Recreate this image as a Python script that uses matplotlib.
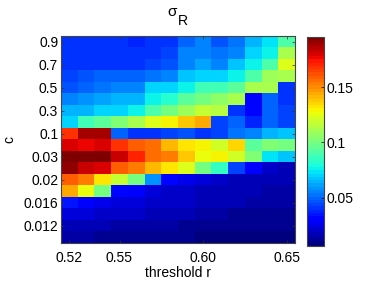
import numpy as np
import matplotlib
matplotlib.use("Agg")
import matplotlib.pyplot as plt

plt.rcParams.update({
    "font.family": "Liberation Sans",
    "font.size": 10,
})

# threshold r (columns) and c (rows, top to bottom)
thresholds = [0.52, 0.53, 0.54, 0.55, 0.56, 0.57, 0.58, 0.59, 0.60, 0.61, 0.62, 0.63, 0.64, 0.65]
c_values = [0.9, 0.8, 0.7, 0.6, 0.5, 0.4, 0.3, 0.2, 0.1, 0.05, 0.03, 0.025, 0.02, 0.018,
            0.016, 0.014, 0.012, 0.01]
xtick_labels = ["0.52", "0.55", "0.60", "0.65"]
ytick_labels = ["0.9", "0.7", "0.5", "0.3", "0.1", "0.03", "0.02", "0.016", "0.012"]
cbar_ticks = [0.05, 0.1, 0.15]

# sigma_R, one row per c value
row_09 = [0.040, 0.040, 0.042, 0.042, 0.038, 0.040, 0.040, 0.049, 0.056, 0.047, 0.051, 0.063, 0.072, 0.092]
row_08 = [0.040, 0.040, 0.040, 0.042, 0.042, 0.042, 0.045, 0.054, 0.054, 0.051, 0.054, 0.069, 0.077, 0.113]
row_07 = [0.040, 0.042, 0.040, 0.042, 0.042, 0.045, 0.047, 0.054, 0.061, 0.056, 0.066, 0.077, 0.092, 0.123]
row_06 = [0.045, 0.047, 0.049, 0.049, 0.049, 0.051, 0.054, 0.066, 0.071, 0.071, 0.075, 0.092, 0.109, 0.111]
row_05 = [0.047, 0.049, 0.051, 0.056, 0.054, 0.069, 0.069, 0.077, 0.087, 0.087, 0.094, 0.111, 0.111, 0.040]
row_04 = [0.054, 0.058, 0.061, 0.063, 0.063, 0.077, 0.082, 0.094, 0.099, 0.106, 0.111, 0.033, 0.049, 0.040]
row_03 = [0.063, 0.064, 0.071, 0.071, 0.077, 0.092, 0.101, 0.108, 0.118, 0.116, 0.040, 0.033, 0.049, 0.045]
row_02 = [0.071, 0.087, 0.094, 0.104, 0.113, 0.123, 0.129, 0.137, 0.144, 0.045, 0.049, 0.038, 0.049, 0.045]
row_01 = [0.167, 0.188, 0.190, 0.049, 0.042, 0.040, 0.045, 0.047, 0.042, 0.045, 0.051, 0.056, 0.063, 0.066]
row_005 = [0.181, 0.177, 0.179, 0.167, 0.158, 0.155, 0.142, 0.131, 0.129, 0.121, 0.135, 0.094, 0.104, 0.101]
row_003 = [0.1957, 0.196, 0.194, 0.184, 0.172, 0.155, 0.153, 0.139, 0.127, 0.128, 0.120, 0.104, 0.073, 0.066]
row_0025 = [0.192, 0.184, 0.179, 0.158, 0.153, 0.142, 0.133, 0.124, 0.101, 0.085, 0.045, 0.028, 0.021, 0.018]
row_002 = [0.158, 0.153, 0.133, 0.118, 0.101, 0.059, 0.032, 0.026, 0.024, 0.021, 0.018, 0.017, 0.016, 0.016]
row_0018 = [0.144, 0.125, 0.099, 0.032, 0.030, 0.024, 0.021, 0.020, 0.018, 0.018, 0.016, 0.016, 0.014, 0.014]
row_0016 = [0.034, 0.030, 0.026, 0.024, 0.023, 0.021, 0.020, 0.019, 0.017, 0.017, 0.016, 0.014, 0.014, 0.014]
row_0014 = [0.024, 0.022, 0.021, 0.020, 0.019, 0.018, 0.017, 0.016, 0.015, 0.015, 0.012, 0.012, 0.012, 0.012]
row_0012 = [0.018, 0.017, 0.016, 0.015, 0.014, 0.014, 0.013, 0.012, 0.011, 0.011, 0.010, 0.010, 0.010, 0.010]
row_001 = [0.014, 0.013, 0.012, 0.012, 0.011, 0.011, 0.010, 0.010, 0.009, 0.009, 0.008, 0.008, 0.007, 0.0066]

sigma_r = np.array([row_09, row_08, row_07, row_06, row_05, row_04, row_03, row_02, row_01,
                    row_005, row_003, row_0025, row_002, row_0018, row_0016, row_0014,
                    row_0012, row_001])

W, H = 374, 281
fig = plt.figure(figsize=(W / 100, H / 100), dpi=100)
ax = fig.add_axes([61 / W, 38 / H, 234 / W, 207 / H])
cax = fig.add_axes([307 / W, 35.5 / H, 17 / W, 209 / H])

# MATLAB-style jet with 64 levels
im = ax.imshow(sigma_r, cmap=plt.get_cmap("jet", 64), aspect="auto", interpolation="nearest")

ax.set_xticks([thresholds.index(float(s)) for s in xtick_labels])
ax.set_xticklabels(xtick_labels)
ax.set_yticks([c_values.index(float(s)) for s in ytick_labels])
ax.set_yticklabels(ytick_labels)
ax.tick_params(direction="in", length=2.5, width=0.5, top=True, right=True,
               labelsize=10, color="#333333")
ax.tick_params(axis="y", pad=2)
ax.tick_params(axis="x", pad=5.5)
for s in ax.spines.values():
    s.set_linewidth(0.8)
    s.set_color("#444444")

ax.set_xlabel("threshold r", fontsize=10, labelpad=1)
ax.set_ylabel("c", fontsize=10, labelpad=5)

# title: sigma with a large subscript R, as MATLAB draws it
fig.text(167 / W, 1 - 15.5 / H, "\u03c3", fontsize=11, ha="left", va="baseline")
fig.text(177.5 / W, 1 - 25 / H, "R", fontsize=10, ha="left", va="baseline")

cb = fig.colorbar(im, cax=cax, ticks=cbar_ticks)
cb.ax.set_yticklabels([f"{t:g}" for t in cbar_ticks])
cb.ax.tick_params(direction="in", length=2.5, width=0.5, labelsize=10, pad=2)
cb.outline.set_linewidth(0.8)
cb.outline.set_edgecolor("#444444")

fig.savefig("out.png", dpi=100, facecolor="white")
